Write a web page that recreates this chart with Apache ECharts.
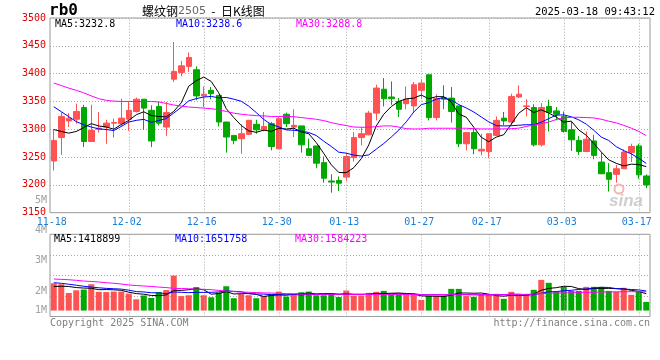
<!DOCTYPE html>
<html><head><meta charset="utf-8">
<script src="https://cdn.jsdelivr.net/npm/echarts/dist/echarts.min.js"></script>
<style>html,body{margin:0;padding:0;background:#fff}#c{width:660px;height:360px}</style>
</head><body><div id="c"></div>
<script>
const dates = ['11-18','11-19','11-20','11-21','11-22','11-25','11-26','11-27','11-28','11-29',
'12-02','12-03','12-04','12-05','12-06','12-09','12-10','12-11','12-12','12-13','12-16','12-17','12-18','12-19','12-20','12-23','12-24','12-25','12-26','12-27','12-30','12-31',
'01-02','01-03','01-06','01-07','01-08','01-09','01-10','01-13','01-14','01-15','01-16','01-17','01-20','01-21','01-22','01-23','01-24','01-27',
'02-05','02-06','02-07','02-10','02-11','02-12','02-13','02-14','02-17','02-18','02-19','02-20','02-21','02-24','02-25','02-26','02-27','02-28',
'03-03','03-04','03-05','03-06','03-07','03-10','03-11','03-12','03-13','03-14','03-17','03-18'];

const openP  = [3243,3285,3315,3318,3339,3278,3300,3304,3311,3310,3318,3332,3354,3334,3341,3304,3390,3402,3413,3407,
3360,3370,3361,3313,3289,3283,3291,3309,3299,3310,3265,3327,3304,3306,3265,3270,3240,3207,3208,3214,
3249,3285,3290,3329,3372,3358,3350,3346,3342,3370,3398,3321,3357,3356,3342,3274,3294,3261,3260,3289,
3320,3313,3358,3341,3339,3272,3341,3333,3323,3299,3280,3260,3279,3241,3222,3219,3229,3258,3270,3216];
const closeP = [3280,3323,3320,3332,3278,3298,3302,3311,3312,3320,3334,3354,3338,3279,3311,3330,3404,3414,3429,3360,
3363,3364,3313,3286,3280,3292,3316,3299,3305,3269,3319,3310,3307,3272,3253,3239,3212,3205,3203,3251,
3285,3292,3329,3374,3355,3355,3336,3354,3380,3383,3321,3355,3354,3332,3274,3294,3265,3264,3292,3316,
3315,3359,3363,3342,3272,3339,3330,3327,3296,3281,3260,3282,3253,3220,3210,3229,3259,3269,3218,3200];
const lowP   = [3226,3254,3304,3310,3268,3277,3294,3274,3285,3306,3297,3330,3299,3268,3307,3288,3385,3395,3403,3352,
3340,3354,3305,3258,3273,3256,3290,3292,3296,3262,3265,3304,3286,3258,3253,3230,3204,3186,3189,3207,
3242,3271,3289,3316,3341,3344,3322,3336,3329,3354,3316,3316,3336,3312,3268,3262,3255,3253,3248,3288,
3307,3307,3356,3323,3269,3269,3296,3316,3294,3261,3254,3260,3246,3219,3188,3204,3229,3241,3211,3194];
const highP  = [3300,3330,3329,3346,3344,3344,3331,3317,3319,3355,3349,3357,3354,3343,3349,3349,3457,3423,3438,3413,
3377,3376,3361,3313,3289,3309,3317,3317,3331,3313,3322,3330,3336,3306,3283,3270,3251,3219,3215,3257,
3295,3304,3333,3380,3392,3386,3356,3377,3385,3390,3398,3363,3379,3376,3342,3294,3302,3292,3292,3323,
3331,3364,3379,3354,3345,3347,3353,3340,3332,3313,3288,3296,3290,3258,3239,3236,3264,3274,3274,3219];

const ma5 = [3299.5,3296,3293,3296,3303,3310.1,3305.9,3304.1,3300.1,3308.6,3315.8,3326.1,3331.4,3324.7,3322.9,3322.2,3332.2,3347.5,3377.5,3387.2,
3393.8,3385.8,3365.5,3337.0,3321.0,3306.8,3297.1,3294.5,3298.4,3296.2,3301.6,3300.4,3301.9,3295.2,3292.0,3276.1,3256.6,3236.2,3222.4,3221.9,
3231.0,3247.0,3271.8,3306.0,3326.9,3340.9,3349.9,3354.8,3355.9,3361.5,3354.8,3358.6,3358.6,3349.0,3327.2,3321.7,3303.6,3285.6,3277.6,3285.9,
3290.2,3309.0,3328.8,3338.8,3330.1,3334.9,3329.1,3321.9,3312.8,3314.6,3298.8,3289.2,3274.4,3259.2,3245.0,3238.7,3234.1,3237.2,3236.7,3232.8];
const ma10 = [3340.5,3331.6,3322.7,3313.7,3308,3304,3300.7,3299.5,3297.7,3305,3313.0,3316.0,3317.8,3312.4,3315.8,3319.0,3329.2,3339.5,3351.1,3355.1,
3358.0,3359.0,3356.5,3357.2,3354.1,3350.3,3341.5,3330.0,3317.7,3308.6,3304.2,3298.8,3298.2,3296.8,3294.1,3288.8,3278.5,3269.1,3258.8,3257.0,
3253.6,3251.8,3254.0,3264.2,3274.4,3286.0,3298.4,3313.3,3331.0,3344.2,3347.9,3354.2,3356.7,3352.5,3344.4,3338.2,3331.1,3322.1,3313.3,3306.5,
3305.9,3306.3,3307.2,3308.2,3308.0,3312.6,3319.1,3325.4,3325.8,3322.4,3316.9,3309.2,3298.2,3286.0,3279.8,3268.7,3261.6,3255.8,3248.0,3238.6];
const ma30 = [3383,3378.6,3374,3370,3365.5,3360,3355,3352,3350.6,3350,3350,3350,3350,3350,3349,3346.5,3343.5,3341.7,3340,3339,
3338,3337,3335,3332,3329,3327,3325.6,3324.4,3324,3323,3323,3323,3322.6,3321,3319.5,3318,3315.5,3312,3309,3306.6,
3304,3303.6,3303.6,3304.8,3306,3306,3304,3301,3300.6,3300.6,3301.8,3301.8,3301.8,3301.8,3301.8,3301.8,3301,3300.6,3300.6,3300.6,
3300.7,3301,3302,3305,3307.6,3310,3313,3317.5,3320.4,3321.5,3321.5,3321,3320.4,3318,3314.5,3311.5,3307,3302,3296,3288.8];

// volume in millions of lots
const volume = [2.30,2.22,1.48,1.71,1.77,2.22,1.58,1.56,1.60,1.60,1.43,0.95,1.27,1.06,1.56,1.73,2.95,1.22,1.29,1.98,
1.29,1.12,1.52,2.05,1.04,1.38,1.29,1.04,1.22,1.41,1.60,1.18,1.41,1.54,1.60,1.29,1.29,1.41,1.14,1.69,
1.24,1.24,1.49,1.58,1.66,1.33,1.33,1.33,1.33,0.90,1.24,1.24,1.24,1.83,1.83,1.24,1.16,1.33,1.33,1.24,
0.99,1.58,1.24,1.41,1.75,2.59,2.34,1.58,2.00,1.66,1.66,2.00,2.00,2.00,1.66,1.58,1.92,1.33,1.58,0.73];
const volMa5 = [2.03,2.05,2.03,1.94,1.90,1.88,1.76,1.77,1.75,1.71,1.55,1.43,1.38,1.27,1.26,1.32,1.71,1.70,1.76,1.84,
1.75,1.38,1.44,1.60,1.40,1.42,1.45,1.36,1.19,1.27,1.32,1.29,1.37,1.43,1.47,1.41,1.43,1.43,1.35,1.37,
1.35,1.34,1.36,1.45,1.44,1.46,1.48,1.44,1.39,1.24,1.22,1.21,1.19,1.29,1.48,1.48,1.46,1.48,1.38,1.26,
1.21,1.29,1.27,1.29,1.39,1.71,1.87,1.93,2.05,2.03,1.85,1.78,1.87,1.87,1.87,1.85,1.83,1.70,1.61,1.42];
const volMa10 = [2.35,2.30,2.22,2.14,2.05,1.98,1.92,1.87,1.84,1.81,1.72,1.60,1.57,1.50,1.49,1.43,1.57,1.54,1.51,1.54,
1.53,1.54,1.57,1.67,1.62,1.59,1.42,1.40,1.39,1.33,1.37,1.38,1.36,1.31,1.37,1.36,1.36,1.40,1.39,1.42,
1.38,1.38,1.39,1.40,1.40,1.41,1.41,1.40,1.42,1.34,1.34,1.34,1.32,1.34,1.36,1.35,1.33,1.33,1.33,1.37,
1.34,1.38,1.38,1.33,1.33,1.46,1.58,1.60,1.67,1.71,1.78,1.82,1.90,1.96,1.95,1.85,1.81,1.78,1.74,1.65];
const volMa30 = [2.66,2.63,2.60,2.55,2.49,2.45,2.41,2.35,2.30,2.24,2.16,2.11,2.07,2.03,1.98,1.94,1.87,1.86,1.84,1.81,
1.79,1.76,1.70,1.65,1.60,1.56,1.54,1.52,1.49,1.48,1.45,1.43,1.41,1.39,1.38,1.37,1.37,1.37,1.37,1.37,
1.36,1.36,1.35,1.35,1.35,1.35,1.35,1.35,1.35,1.34,1.34,1.34,1.34,1.34,1.34,1.34,1.34,1.34,1.34,1.34,
1.34,1.35,1.35,1.36,1.39,1.43,1.46,1.48,1.49,1.50,1.52,1.54,1.54,1.56,1.57,1.58,1.59,1.59,1.59,1.58];

const labelDates = ['11-18','12-02','12-16','12-30','01-13','01-27','02-17','03-03','03-17'];
const gridDates  = ['12-02','12-16','12-30','01-13','01-27','02-17','03-03','03-17'];
const volTickLabels = ['5M','4M','3M','2M','1M'];
const priceLegend = ['MA5:3232.8','MA10:3238.6','MA30:3288.8'];
const volLegend   = ['MA5:1418899','MA10:1651758','MA30:1584223'];
const symbolText = 'rb0';
const titleParts = ['螺纹钢','2505','  -  日K线图'];
const timeText = '2025-03-18 09:43:12';
const footerLeft = 'Copyright 2025 SINA.COM';
const footerRight = 'http://finance.sina.com.cn';

const UP = '#ff5252', DOWN = '#00a800';
const MONO = '"DejaVu Sans Mono", monospace';
const dotted = {color:'#a8a8a8', type:[1,2], width:1};
const labelSet = new Set(labelDates);

const candleData = dates.map((d,i)=>[openP[i], closeP[i], lowP[i], highP[i]]);
const volData = volume.map((v,i)=>({value:v, itemStyle:{color: closeP[i] >= openP[i] ? UP : DOWN}}));
const vMarks = {silent:true, symbol:'none', label:{show:false}, lineStyle:dotted, emphasis:{disabled:true},
  data: gridDates.map(d=>({xAxis:d}))};
const maLine = (name, data, color, xi, yi) => ({name, type:'line', data, xAxisIndex:xi, yAxisIndex:yi,
  symbol:'none', silent:true, z:5, lineStyle:{color, width:1}, itemStyle:{color}});

function txt(text, x, y, fill, font, align){
  return {type:'text', silent:true, z:100, style:{text, x, y, fill, font, align:align||'left', verticalAlign:'middle',
    textAlign:align||'left', textVerticalAlign:'middle'}};
}

const chart = echarts.init(document.getElementById('c'), null, {renderer:'canvas'});
chart.setOption({
  animation:false,
  backgroundColor:'#fff',
  grid:[
    {left:50, right:10, top:18, height:194.7, show:true, borderColor:'#999', borderWidth:1, backgroundColor:'transparent'},
    {left:50, right:10, top:234.3, height:82.2, show:true, borderColor:'#999', borderWidth:1, backgroundColor:'transparent'}
  ],
  xAxis:[
    {type:'category', gridIndex:0, data:dates, boundaryGap:true,
      axisLine:{show:false}, axisTick:{show:false}, splitLine:{show:false},
      axisLabel:{interval:(i,v)=>labelSet.has(v), color:'#1a7fd6', fontFamily:MONO, fontSize:10, margin:5,
        padding:[0,4,0,0], hideOverlap:false}},
    {type:'category', gridIndex:1, data:dates, boundaryGap:true,
      axisLine:{show:false}, axisTick:{show:false}, axisLabel:{show:false}, splitLine:{show:false}}
  ],
  yAxis:[
    {type:'value', gridIndex:0, min:3150, max:3500, interval:50, position:'left',
      axisLine:{show:false}, axisTick:{show:false}, splitLine:{show:true, lineStyle:dotted},
      axisLabel:{color:'#e00000', fontFamily:MONO, fontSize:10, margin:4, formatter:(v)=>String(v)}},
    {type:'value', gridIndex:1, min:-0.5, max:6.43, show:false, splitLine:{show:false}},
    {type:'value', gridIndex:1, min:0, max:4, interval:1, position:'right',
      axisLine:{show:false}, axisTick:{show:false}, axisLabel:{show:false}, splitLine:{show:true, lineStyle:dotted}}
  ],
  series:[
    {type:'line', data:dates.map(()=>null), xAxisIndex:0, yAxisIndex:0, z:1, symbol:'none', silent:true, markLine:vMarks},
    {type:'line', data:dates.map(()=>null), xAxisIndex:1, yAxisIndex:1, z:1, symbol:'none', silent:true, markLine:vMarks},
    {type:'candlestick', data:candleData, xAxisIndex:0, yAxisIndex:0, barWidth:6, z:3, silent:true,
      itemStyle:{color:UP, color0:DOWN, borderColor:UP, borderColor0:DOWN, borderWidth:1}},
    maLine('MA5', ma5, '#000000', 0, 0),
    maLine('MA10', ma10, '#0000ff', 0, 0),
    maLine('MA30', ma30, '#ff00ff', 0, 0),
    {type:'bar', data:volData, xAxisIndex:1, yAxisIndex:1, barWidth:6, z:3, silent:true},
    maLine('VMA5', volMa5, '#000000', 1, 1),
    maLine('VMA10', volMa10, '#0000ff', 1, 1),
    maLine('VMA30', volMa30, '#ff00ff', 1, 1)
  ],
  graphic:[
    txt(symbolText, 49, 11, '#000', 'bold 16px "DejaVu Sans Mono", monospace'),
    {type:'text', silent:true, z:100, style:{
      text:'{a|'+titleParts[0]+'}{b|'+titleParts[1]+'}{a|'+titleParts[2]+'}', x:142, y:11,
      verticalAlign:'middle', textVerticalAlign:'middle',
      rich:{a:{fontFamily:'"Noto Sans CJK SC"', fontSize:12, fill:'#000', color:'#000'},
            b:{fontFamily:'"DejaVu Sans"', fontSize:11, fill:'#666', color:'#666'}}}},
    txt(timeText, 655, 12, '#000', '10.5px '+MONO, 'right'),
    txt(priceLegend[0], 55, 24, '#000', '10px '+MONO),
    txt(priceLegend[1], 176, 24, '#0000ff', '10px '+MONO),
    txt(priceLegend[2], 296, 24, '#ff00ff', '10px '+MONO),
    txt(volLegend[0], 54, 239, '#000', '10px '+MONO),
    txt(volLegend[1], 175, 239, '#0000ff', '10px '+MONO),
    txt(volLegend[2], 295, 239, '#ff00ff', '10px '+MONO),
    txt(volTickLabels[0], 47, 200.5, '#a0a0a0', '10px '+MONO, 'right'),
    txt(volTickLabels[1], 47, 230.7, '#a0a0a0', '10px '+MONO, 'right'),
    txt(volTickLabels[2], 47, 260.7, '#a0a0a0', '10px '+MONO, 'right'),
    txt(volTickLabels[3], 47, 291, '#a0a0a0', '10px '+MONO, 'right'),
    txt(volTickLabels[4], 47, 310.7, '#a0a0a0', '10px '+MONO, 'right'),
    txt(footerLeft, 50, 323.7, '#808080', '10px '+MONO),
    txt(footerRight, 650, 323.7, '#808080', '10px '+MONO, 'right'),
    {type:'circle', silent:true, z:90, shape:{cx:619, cy:189, r:4.5}, style:{fill:'none', stroke:'#f2b5b5', lineWidth:2}},
    txt('sina', 626, 201, '#cfcfcf', 'italic bold 17px "Liberation Sans"', 'center')
  ]
});
</script></body></html>
